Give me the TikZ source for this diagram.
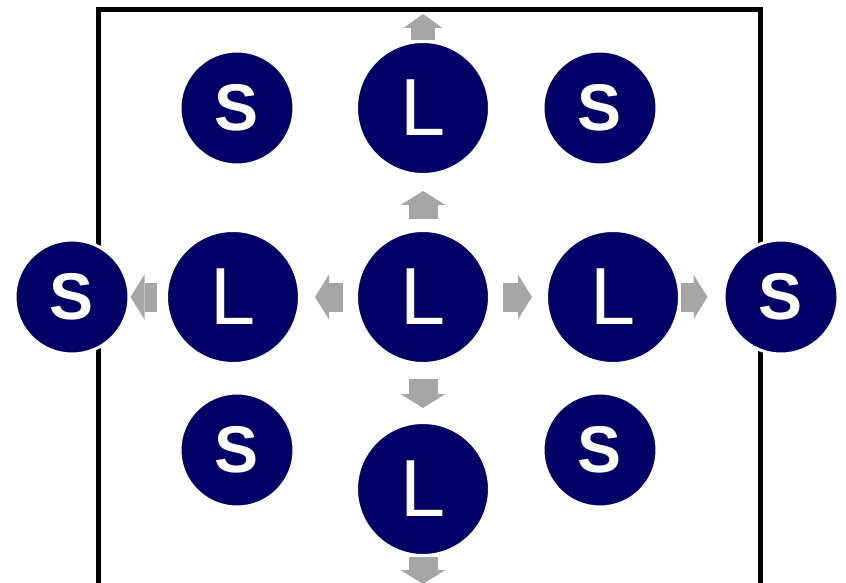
\documentclass[tikz,border=0pt]{standalone}
\usepackage{fontspec}
\setmainfont{Liberation Sans}
\usetikzlibrary{arrows.meta,positioning}
\definecolor{circblue}{RGB}{0,0,102}
\definecolor{arrowgray}{RGB}{166,166,166}

\begin{document}
\begin{tikzpicture}[x=1pt,y=1pt]
				\tikzstyle{small}=[circle, fill=circblue, draw=white, line width=3pt, minimum size=114pt, inner sep=0pt, text=white, font=\fontsize{66}{66}\selectfont\bfseries]
				\tikzstyle{large}=[circle, fill=circblue, draw=white, line width=3pt, minimum size=133pt, inner sep=0pt, text=white, font=\fontsize{81}{81}\selectfont]
				\tikzstyle{arrow}=[draw=arrowgray, line width=29pt, -{Triangle[width=45pt,length=14pt,line width=0pt]}]
				\newcommand\XMid{423}
				\newcommand\XSLeft{237}
				\newcommand\XSRight{600}
				\newcommand\YTop{474}
				\newcommand\YMid{285}
				\newcommand\YLow{132}
				\newcommand\YBot{93}

				\clip (0,0) rectangle (846,582);
				\useasboundingbox (0,0) rectangle (846,582);

				% Frame
				\draw [line width=5pt] (98,-3) rectangle (760,572);

				% Large
				\node [large] at (\XMid,\YTop) (ltop) {L};
				\node [large] at (233,\YMid) (lleft) {L};
				\node [large] at (\XMid,\YMid) (lmid) {L};
				\node [large] at (613,\YMid) (lright) {L};
				\node [large] at (\XMid,\YBot) (lbot) {L};

				% Small
				\node [small] at (\XSLeft,\YTop) (stl) {S};
				\node [small] at (\XSRight,\YTop) (str) {S};
				\node [small] at (72,\YMid) (sleft) {S};
				\node [small] at (781,\YMid) (sright) {S};
				\node [small] at (\XSLeft,\YLow) (sbl) {S};
				\node [small] at (\XSRight,\YLow) (sbr) {S};

				% Path Arrows
				\coordinate (topout) at (\XMid,568);
				\coordinate (botout) at (\XMid,-2);
				\path [arrow, line width=24pt, -{Triangle[width=39pt,length=14pt,line width=0pt]}] (ltop) -- (topout);
				\path [arrow, shorten <=10pt, shorten >=15pt] (lmid) -- (ltop);
				\path [arrow, shorten <=12pt, shorten >=14pt] (lmid) -- (lleft);
				\path [arrow, shorten <=8pt] (lleft) -- (sleft);
				\path [arrow, shorten <=12pt, shorten >=13pt] (lmid) -- (lright);
				\path [arrow, shorten >=15pt] (lright) -- (sright);
				\path [arrow, shorten <=14pt, shorten >=13pt] (lmid) -- (lbot);
				\path [arrow] (lbot) -- (botout);
			\end{tikzpicture}
\end{document}
